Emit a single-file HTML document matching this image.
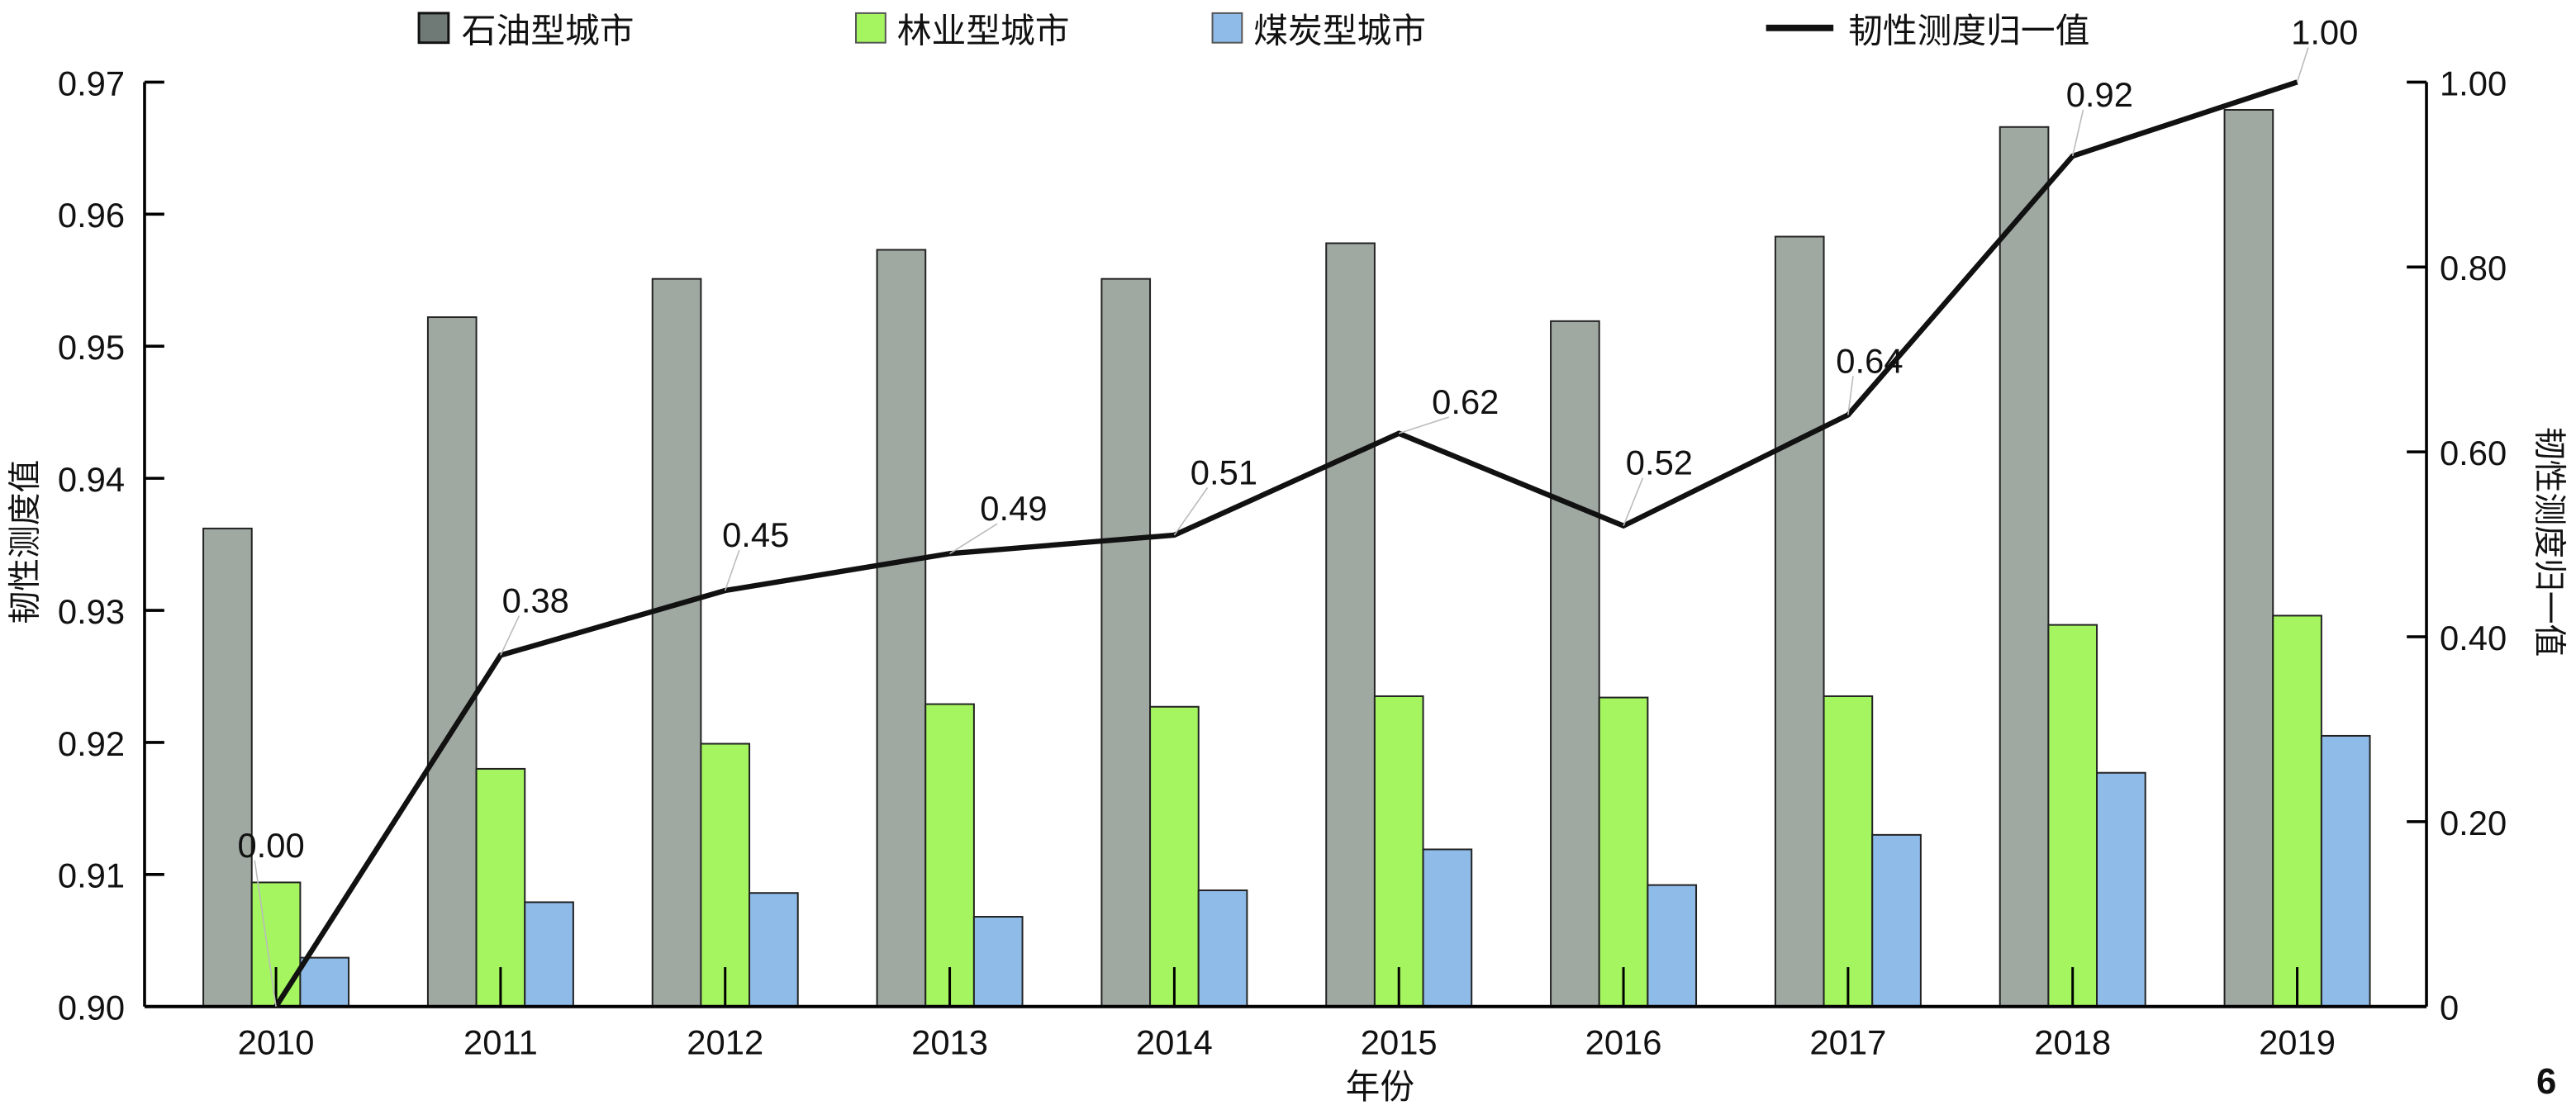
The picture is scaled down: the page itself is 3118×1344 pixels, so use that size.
<!DOCTYPE html>
<html><head><meta charset="utf-8">
<style>
html,body{margin:0;padding:0;background:#fff;}
svg{display:block;}
text{font-family:"Liberation Sans","Noto Sans CJK SC",sans-serif;fill:#111;}
</style></head>
<body>
<svg id="c" width="3118" height="1344" viewBox="0 0 1568 676" preserveAspectRatio="none" xmlns="http://www.w3.org/2000/svg"></svg>
<script>
const s=document.getElementById('c');let h='';
const L=88,R=1477,T=50,B=613;
const yl=v=>B-(v-0.90)/0.07*(B-T), yr=v=>B-v*(B-T);
const yrs=[2010,2011,2012,2013,2014,2015,2016,2017,2018,2019];
const cx=i=>168+136.7*i;
const g=[0.9362,0.9522,0.9551,0.9573,0.9551,0.9578,0.9519,0.9583,0.9666,0.9679];
const gr=[0.9094,0.9180,0.9199,0.9229,0.9227,0.9235,0.9234,0.9235,0.9289,0.9296];
const bl=[0.9037,0.9079,0.9086,0.9068,0.9088,0.9119,0.9092,0.9130,0.9177,0.9205];
const ln=[0,0.38,0.45,0.49,0.51,0.62,0.52,0.64,0.92,1.00];
const lab=[[165,522],[326,373],[460,333],[617,317],[745,295],[892,252],[1010,289],[1138,227],[1278,65],[1415,27]];
const w=29.5;
yrs.forEach((y,i)=>{
 const c=cx(i);
 [[g,'#a0a8a2',-1.5],[gr,'#a4f560',-0.5],[bl,'#8fbbe9',0.5]].forEach(([d,col,o])=>{
  const x=c+o*w, yy=yl(d[i]);
  h+=`<rect x="${x}" y="${yy}" width="${w}" height="${B-yy}" fill="${col}" stroke="#222" stroke-width="1"/>`;
 });
 h+=`<line x1="${c}" y1="${B}" x2="${c}" y2="${B-24}" stroke="#000" stroke-width="1.5"/>`;
 h+=`<text x="${c}" y="${642}" font-size="21" text-anchor="middle">${y}</text>`;
});
h+=`<line x1="${L}" y1="${T}" x2="${L}" y2="${B}" stroke="#000" stroke-width="1.8"/>`;
h+=`<line x1="${R}" y1="${T}" x2="${R}" y2="${B}" stroke="#000" stroke-width="1.8"/>`;
h+=`<line x1="${L}" y1="${B}" x2="${R}" y2="${B}" stroke="#000" stroke-width="2"/>`;
for(let k=0;k<=7;k++){const v=0.90+k*0.01,y=yl(v);
 h+=`<line x1="${L}" y1="${y}" x2="${L+12}" y2="${y}" stroke="#000" stroke-width="1.8"/>`;
 h+=`<text x="${L-12}" y="${y+8}" font-size="21" text-anchor="end">${v.toFixed(2)}</text>`;}
for(let k=0;k<=5;k++){const v=k*0.2,y=yr(v);
 h+=`<line x1="${R-12}" y1="${y}" x2="${R}" y2="${y}" stroke="#000" stroke-width="1.8"/>`;
 h+=`<text x="${R+8}" y="${y+8}" font-size="21">${k==0?'0':v.toFixed(2)}</text>`;}
h+=`<polyline points="${ln.map((v,i)=>cx(i)+','+yr(v)).join(' ')}" fill="none" stroke="#111" stroke-width="3.2"/>`;
ln.forEach((v,i)=>{const [lx,ly]=lab[i];
 h+=`<line x1="${cx(i)}" y1="${yr(v)}" x2="${lx-10}" y2="${ly+2}" stroke="#bbb" stroke-width="0.8"/>`;
 h+=`<text x="${lx}" y="${ly}" font-size="21" text-anchor="middle">${v.toFixed(2)}</text>`;});
h+=`<rect x="255" y="8" width="18" height="18" fill="#6f7a76" stroke="#111" stroke-width="1.5"/><text x="281" y="26" font-size="21">石油型城市</text>`;
h+=`<rect x="521" y="8" width="18" height="18" fill="#a4f560" stroke="#555" stroke-width="1"/><text x="546" y="26" font-size="21">林业型城市</text>`;
h+=`<rect x="738" y="8" width="18" height="18" fill="#8fbbe9" stroke="#555" stroke-width="1"/><text x="763" y="26" font-size="21">煤炭型城市</text>`;
h+=`<line x1="1075" y1="17" x2="1116" y2="17" stroke="#111" stroke-width="4"/><text x="1125" y="26" font-size="21">韧性测度归一值</text>`;
h+=`<text transform="translate(22,330) rotate(-90)" font-size="20" text-anchor="middle">韧性测度值</text>`;
h+=`<text transform="translate(1545,330) rotate(90)" font-size="20" text-anchor="middle">韧性测度归一值</text>`;
h+=`<text x="840" y="669" font-size="21" text-anchor="middle">年份</text>`;
h+=`<text x="1550" y="666" font-size="22" font-weight="bold" text-anchor="middle">6</text>`;
s.innerHTML=h;
</script>
</body></html>
